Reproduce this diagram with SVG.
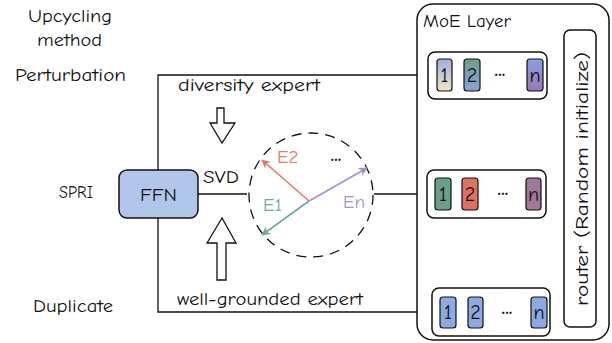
<svg xmlns="http://www.w3.org/2000/svg" width="612" height="343" viewBox="0 0 612 343">
  <style>
    text { font-family: "Comic Neue", "Noto Sans", "DejaVu Sans", sans-serif; fill: #111; font-size: 19px; }
    .num { font-size: 20px; text-anchor: middle; }
    .dots { font-size: 20px; font-weight: bold; text-anchor: middle; }
    .box { fill: #fff; stroke: #111; stroke-width: 1.5; }
    .exp { stroke: #111; stroke-width: 1.2; }
    .wire { fill: none; stroke: #111; stroke-width: 1.3; }
    .blk { fill: #fff; stroke: #111; stroke-width: 1.3; }
  </style>
  <defs>
    <marker id="ah" viewBox="0 0 10 10" refX="9" refY="5" markerWidth="8" markerHeight="8" orient="auto" markerUnits="userSpaceOnUse">
      <path d="M0,0 L10,5 L0,10 L3,5 z" fill="#111"/>
    </marker>
    <marker id="ahRed" viewBox="0 0 10 10" refX="9" refY="5" markerWidth="9" markerHeight="9" orient="auto" markerUnits="userSpaceOnUse">
      <path d="M0,0 L10,5 L0,10 L3,5 z" fill="#e07868"/>
    </marker>
    <marker id="ahPur" viewBox="0 0 10 10" refX="9" refY="5" markerWidth="9" markerHeight="9" orient="auto" markerUnits="userSpaceOnUse">
      <path d="M0,0 L10,5 L0,10 L3,5 z" fill="#a890cc"/>
    </marker>
    <marker id="ahGrn" viewBox="0 0 10 10" refX="9" refY="5" markerWidth="9" markerHeight="9" orient="auto" markerUnits="userSpaceOnUse">
      <path d="M0,0 L10,5 L0,10 L3,5 z" fill="#72a898"/>
    </marker>
    <linearGradient id="g1" x1="0" y1="0" x2="0" y2="1">
      <stop offset="0" stop-color="#9fb0dc"/>
      <stop offset="1" stop-color="#f3e3c8"/>
    </linearGradient>
    <linearGradient id="g2" x1="0" y1="0" x2="0" y2="1">
      <stop offset="0" stop-color="#6a9e8a"/>
      <stop offset="1" stop-color="#8ea2dc"/>
    </linearGradient>
    <linearGradient id="gn" x1="0" y1="0" x2="0" y2="1">
      <stop offset="0" stop-color="#8a9ee2"/>
      <stop offset="1" stop-color="#9a78b6"/>
    </linearGradient>
  </defs>

  <!-- left-hand method labels -->
  <g id="method-labels">
    <text x="28" y="22" textLength="84" lengthAdjust="spacingAndGlyphs">Upcycling</text>
    <text x="37" y="46" textLength="65" lengthAdjust="spacingAndGlyphs">method</text>
    <text x="15" y="81" textLength="111" lengthAdjust="spacingAndGlyphs">Perturbation</text>
    <text x="59" y="198" textLength="34" lengthAdjust="spacingAndGlyphs">SPRI</text>
    <text x="33" y="312" textLength="80" lengthAdjust="spacingAndGlyphs">Duplicate</text>
  </g>

  <!-- connectors -->
  <g id="connectors">
    <path class="wire" d="M158,170 V75 H427" marker-end="url(#ah)"/>
    <path class="wire" d="M158,218 V312 H431" marker-end="url(#ah)"/>
    <path class="wire" d="M198,194 H247"/>
    <path class="wire" d="M374,194 H426" marker-end="url(#ah)"/>
    <text x="178" y="91" textLength="142" lengthAdjust="spacingAndGlyphs">diversity expert</text>
    <text x="177" y="305" textLength="186" lengthAdjust="spacingAndGlyphs">well-grounded expert</text>
    <text x="203" y="183" textLength="36" lengthAdjust="spacingAndGlyphs">SVD</text>
    <!-- hollow block arrows -->
    <path class="blk" d="M217,108 H224 V123 H235 L222,143 L210,123 H217 Z"/>
    <path class="blk" d="M217,280 H226 V243 H236 L222,218 L207,243 H217 Z"/>
  </g>

  <!-- FFN node -->
  <g id="ffn">
    <rect x="119" y="170" width="79" height="48" rx="8" fill="#b1c5ea" stroke="#111" stroke-width="1.5"/>
    <text x="140" y="201" textLength="37" lengthAdjust="spacingAndGlyphs" font-size="21">FFN</text>
  </g>

  <!-- SVD decomposition circle -->
  <g id="svd-space">
    <circle cx="311" cy="195" r="62" fill="none" stroke="#111" stroke-width="1.3" stroke-dasharray="10 7"/>
    <line x1="309" y1="201" x2="262" y2="160" stroke="#e07868" stroke-width="1.6" marker-end="url(#ahRed)"/>
    <line x1="309" y1="201" x2="367" y2="168" stroke="#a890cc" stroke-width="1.6" marker-end="url(#ahPur)"/>
    <line x1="309" y1="201" x2="262" y2="235" stroke="#72a898" stroke-width="1.6" marker-end="url(#ahGrn)"/>
    <text x="277" y="163" font-size="16" style="fill:#e07868">E2</text>
    <text x="336" y="161" class="dots" font-size="16">...</text>
    <text x="343" y="208" font-size="16" style="fill:#a890cc">En</text>
    <text x="263" y="211" font-size="16" style="fill:#72a898">E1</text>
  </g>

  <!-- MoE layer container -->
  <g id="moe-layer">
    <rect x="417" y="4" width="192" height="336" rx="16" class="box"/>
    <text x="423" y="27" textLength="88" lengthAdjust="spacingAndGlyphs">MoE Layer</text>
  </g>

  <!-- router -->
  <g id="router">
    <rect x="564" y="30" width="32" height="297" rx="6" class="box"/>
    <text transform="translate(588,179) rotate(-90)" x="-127" y="0" textLength="254" lengthAdjust="spacingAndGlyphs">router (Random initialize)</text>
  </g>

  <!-- diversity experts -->
  <g id="experts-diversity">
    <rect x="428" y="52" width="119" height="47" rx="7" class="box"/>
    <rect x="437" y="59" width="15" height="32" rx="3" class="exp" fill="url(#g1)"/>
    <rect x="464" y="59" width="16" height="32" rx="3" class="exp" fill="url(#g2)"/>
    <rect x="527" y="59" width="16" height="32" rx="3" class="exp" fill="url(#gn)"/>
    <text class="num" x="444.5" y="82">1</text>
    <text class="num" x="472" y="82">2</text>
    <text class="dots" x="500" y="76">...</text>
    <text class="num" x="535" y="82">n</text>
  </g>

  <!-- SPRI experts -->
  <g id="experts-spri">
    <rect x="427" y="170" width="119" height="48" rx="7" class="box"/>
    <rect x="435" y="178" width="16" height="32" rx="3" class="exp" fill="#6aa088"/>
    <rect x="462" y="178" width="16" height="32" rx="3" class="exp" fill="#e07060"/>
    <rect x="526" y="178" width="15" height="32" rx="3" class="exp" fill="#a07898"/>
    <text class="num" x="443" y="201">1</text>
    <text class="num" x="470" y="201">2</text>
    <text class="dots" x="503" y="195">...</text>
    <text class="num" x="533.5" y="201">n</text>
  </g>

  <!-- well-grounded experts -->
  <g id="experts-duplicate">
    <rect x="432" y="288" width="118" height="48" rx="7" class="box"/>
    <rect x="440" y="297" width="16" height="31" rx="3" class="exp" fill="#8ea8e2"/>
    <rect x="468" y="297" width="15" height="31" rx="3" class="exp" fill="#8ea8e2"/>
    <rect x="531" y="297" width="16" height="31" rx="3" class="exp" fill="#8ea8e2"/>
    <text class="num" x="448" y="319">1</text>
    <text class="num" x="475.5" y="319">2</text>
    <text class="dots" x="507" y="314">...</text>
    <text class="num" x="539" y="319">n</text>
  </g>
</svg>
